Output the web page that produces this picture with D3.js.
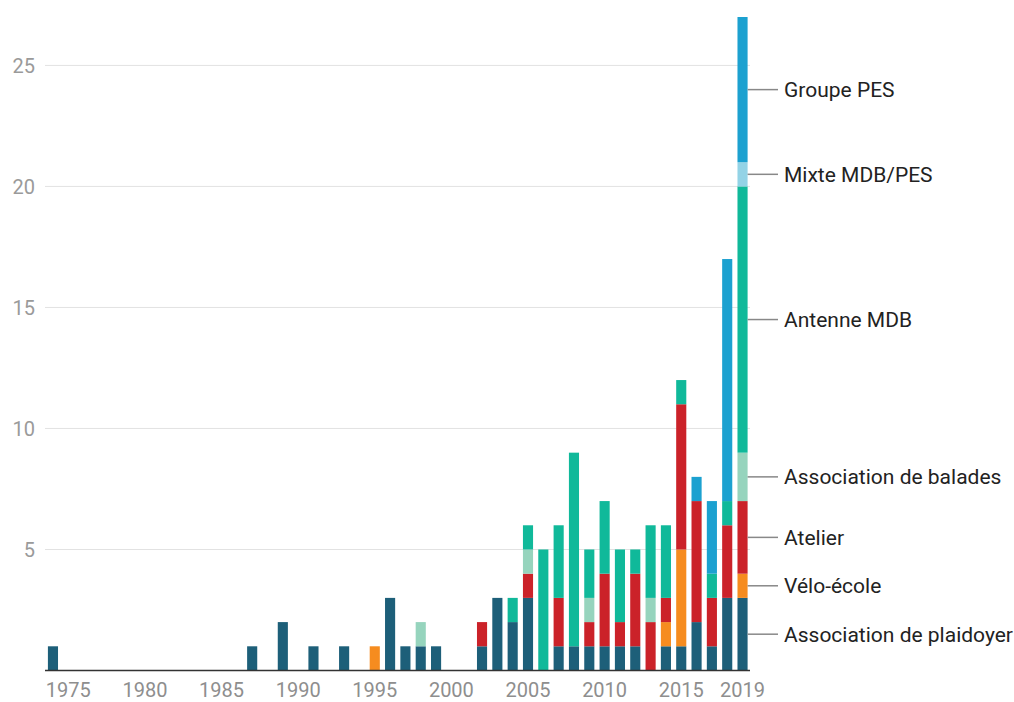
<!DOCTYPE html>
<html><head><meta charset="utf-8">
<script src="https://cdn.jsdelivr.net/npm/d3@7"></script>
<style>body{margin:0;background:#fff;font-family:Roboto,sans-serif}</style>
</head><body><svg id="c" width="1014" height="702"></svg>
<script>
const years = d3.range(1974, 2020);
const seriesNames = ["Association de plaidoyer","Vélo-école","Atelier","Association de balades","Antenne MDB","Mixte MDB/PES","Groupe PES"];
const seriesColors = ["#1d5f79","#f68c1f","#cb2229","#96d4bd","#10b99a","#93d3e6","#1ca1d0"];
// values by year (sparse)
const plaidoyer = {1974:1,1987:1,1989:2,1991:1,1993:1,1996:3,1997:1,1998:1,1999:1,2002:1,2003:3,2004:2,2005:3,2007:1,2008:1,2009:1,2010:1,2011:1,2012:1,2014:1,2015:1,2016:2,2017:1,2018:3,2019:3};
const veloEcole = {1995:1,2014:1,2015:4,2019:1};
const atelier = {2002:1,2005:1,2007:2,2009:1,2010:3,2011:1,2012:3,2013:2,2014:1,2015:6,2016:5,2017:2,2018:3,2019:3};
const balades = {1998:1,2005:1,2009:1,2013:1,2019:2};
const antenne = {2004:1,2005:1,2006:5,2007:3,2008:8,2009:2,2010:3,2011:3,2012:1,2013:3,2014:3,2015:1,2017:1,2018:1,2019:11};
const mixte = {2019:1};
const groupe = {2016:1,2017:3,2018:10,2019:6};
const xTickYears = [1975,1980,1985,1990,1995,2000,2005,2010,2015,2019];
const yTicks = [5,10,15,20,25];

const seriesData = [plaidoyer, veloEcole, atelier, balades, antenne, mixte, groupe];
const table = years.map(y => {
  const o = {year: y};
  seriesNames.forEach((n,i) => o[n] = seriesData[i][y] || 0);
  return o;
});
const stacked = d3.stack().keys(seriesNames)(table);

const svg = d3.select("#c");
const x = d3.scaleBand().domain(years).range([45.3, 750.2]).paddingInner(0.34).paddingOuter(0.17);
const y = d3.scaleLinear().domain([0, 27]).range([670.5, 17]);

// gridlines
svg.append("g").selectAll("line").data(yTicks).join("line")
  .attr("x1", 45).attr("x2", 750).attr("y1", d => y(d)).attr("y2", d => y(d))
  .attr("stroke", "#e2e2e2").attr("stroke-width", 1);
svg.append("g").selectAll("text").data(yTicks).join("text")
  .attr("x", 35).attr("y", d => y(d)).attr("dy", "0.36em").attr("text-anchor","end")
  .attr("font-size", 20).attr("fill", "#9a9a9a").text(d => d);

// bars
svg.append("g").selectAll("g").data(stacked).join("g")
  .attr("fill", (d,i) => seriesColors[i])
  .selectAll("rect").data(d => d.filter(s => s[1] > s[0])).join("rect")
  .attr("x", d => x(d.data.year)).attr("width", x.bandwidth())
  .attr("y", d => y(d[1])).attr("height", d => y(d[0]) - y(d[1]));

// x axis
svg.append("line").attr("x1", 45).attr("x2", 750).attr("y1", y(0)).attr("y2", y(0))
  .attr("stroke", "#333").attr("stroke-width", 1.5);
svg.append("g").selectAll("text").data(xTickYears).join("text")
  .attr("x", d => x(d) + x.bandwidth()/2).attr("y", 697).attr("text-anchor","middle")
  .attr("font-size", 20).attr("fill", "#8e8e8e").text(d => d);

// labels on last bar
const lastX = x(2019) + x.bandwidth();
stacked.forEach((s, i) => {
  const seg = s[s.length-1];
  if (seg[1] <= seg[0]) return;
  const cy = y((seg[0]+seg[1])/2);
  svg.append("line").attr("x1", lastX).attr("x2", 778).attr("y1", cy).attr("y2", cy)
    .attr("stroke", "#888").attr("stroke-width", 1.5);
  svg.append("text").attr("x", 784).attr("y", cy).attr("dy","0.35em")
    .attr("font-size", 21).attr("fill", "#222").text(seriesNames[i]);
});
</script></body></html>
